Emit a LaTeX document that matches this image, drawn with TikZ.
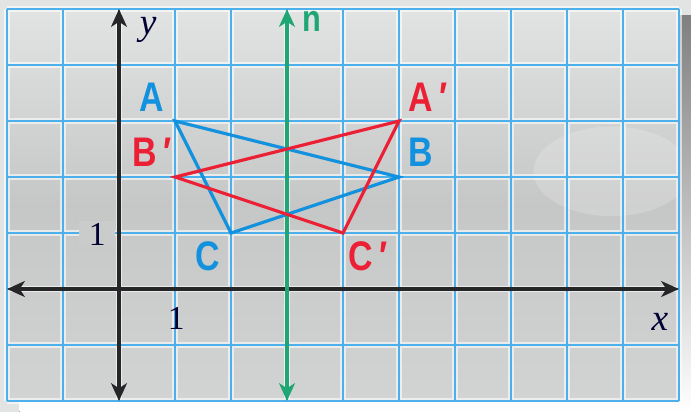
\documentclass[tikz,border=0pt]{standalone}
\usepackage{fontspec}
\setmainfont{Liberation Serif}
\newfontfamily\labelfont[FakeStretch=0.82]{Liberation Sans}
\usetikzlibrary{arrows.meta}

\definecolor{gridblue}{RGB}{78,176,235}
\definecolor{ptblue}{RGB}{18,146,222}
\definecolor{ptred}{RGB}{236,32,52}
\definecolor{lngreen}{RGB}{32,166,116}
\definecolor{paper}{RGB}{210,211,211}
\definecolor{sky}{RGB}{226,228,228}
\definecolor{shade}{RGB}{184,185,188}
\definecolor{axisdark}{RGB}{38,38,40}

\begin{document}
\begin{tikzpicture}[x=1cm,y=1cm,
  gridline/.style={gridblue,line width=1pt},
  axis/.style={axisdark,line width=1.7pt,{Stealth[length=9pt,width=8pt,inset=2.5pt]}-{Stealth[length=9pt,width=8pt,inset=2.5pt]}},
  tri/.style={line width=1.6pt,line join=miter},
  ptlabel/.style={font=\labelfont\bfseries\fontsize{21}{24}\selectfont,inner sep=0pt},
  numlabel/.style={font=\fontsize{17}{20}\selectfont,text=black!80!blue,inner sep=1pt}]
\useasboundingbox (-2.125,-2.196) rectangle (10.214,5.161);
% page and shadow
\fill[sky] (-2.125,-2.196) rectangle (10.214,5.161);
\fill[shade] (-1.78,-2.196) rectangle (10.214,4.89);
\shade[top color=sky,bottom color=paper,middle color=paper!94!black] (-2,-2) rectangle (10,5);
\begin{scope}
\clip (-2,-2) rectangle (10,5);
\fill[white,opacity=.18] (8.8,2.1) ellipse (1.4 and .8);
\end{scope}
% grid
\draw[white,opacity=.6,line width=2.6pt] (-2,-2) grid (10,5);
\draw[gridline] (-2,-2) grid (10,5);
% tick numbers
\node[numlabel,fill=paper!96!black,inner xsep=5pt] (oney) at (-0.39,0.98) {1};
\node[numlabel] (onex) at (1.02,-0.52) {1};
% axes and line n
\coordinate (xl) at (-2,0);
\coordinate (xr) at (10,0);
\coordinate (yb) at (0,-2);
\coordinate (yt) at (0,5);
\coordinate (nb) at (3,-2);
\coordinate (nt) at (3,5);
\draw[axis] (xl)--(xr);
\draw[axis] (yb)--(yt);
\draw[axis,lngreen] (nb)--(nt);
\node[numlabel,font=\itshape\fontsize{19}{22}\selectfont] (ylab) at (0.52,4.62) {y};
\node[numlabel,font=\itshape\fontsize{19}{22}\selectfont] (xlab) at (9.66,-0.59) {x};
\node[ptlabel,text=lngreen,font=\labelfont\bfseries\fontsize{19}{22}\selectfont] (nlab) at (3.45,4.77) {n};
% triangle ABC
\coordinate (A) at (1,3);
\coordinate (B) at (5,2);
\coordinate (C) at (2,1);
\draw[tri,ptblue] (A)--(B)--(C)--cycle;
% image A'B'C'
\coordinate (A') at (5,3);
\coordinate (B') at (1,2);
\coordinate (C') at (4,1);
\draw[tri,ptred] (A')--(B')--(C')--cycle;
% vertex labels
\node[ptlabel,text=ptblue] (Alab) at (0.59,3.43) {A};
\node[ptlabel,text=ptblue] (Blab) at (5.38,2.45) {B};
\node[ptlabel,text=ptblue] (Clab) at (1.59,0.59) {C};
\node[ptlabel,text=ptred] (A'lab) at (5.52,3.43) {A\,′};
\node[ptlabel,text=ptred] (B'lab) at (0.59,2.45) {B\,′};
\node[ptlabel,text=ptred] (C'lab) at (4.45,0.59) {C\,′};
\end{tikzpicture}
\end{document}
